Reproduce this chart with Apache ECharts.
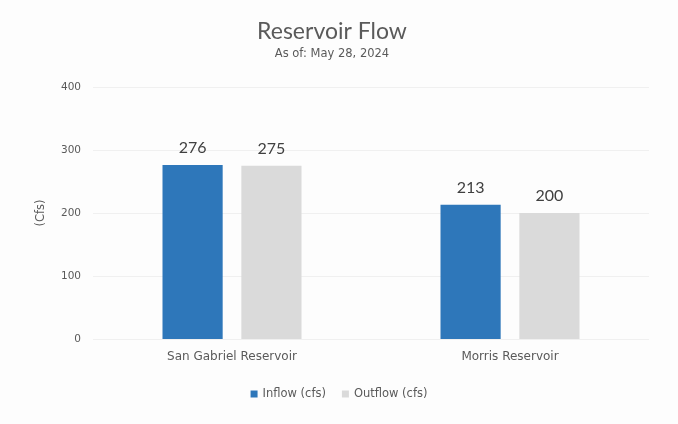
<!DOCTYPE html>
<html>
<head>
<meta charset="utf-8">
<script src="https://cdn.jsdelivr.net/npm/echarts@6/dist/echarts.min.js"></script>
<style>
  html, body { margin: 0; padding: 0; background: #ffffff; }
  #chart { width: 678px; height: 424px; }
</style>
</head>
<body>
<div id="chart"></div>
<script>
// Reservoir flow data
const categories = ['San Gabriel Reservoir', 'Morris Reservoir'];
const inflow = [276, 213];
const outflow = [275, 200];
const yTicks = [0, 100, 200, 300, 400];

const titleFont = 'Lato, "Open Sans", sans-serif';
const smallFont = '"DejaVu Sans", "Noto Sans", sans-serif';
const chart = echarts.init(document.getElementById('chart'));

chart.setOption({
  backgroundColor: '#fdfdfd',
  animation: false,
  title: {
    text: 'Reservoir Flow',
    subtext: 'As of: May 28, 2024',
    left: 327,
    textAlign: 'center',
    top: 15,
    itemGap: 5,
    textStyle: { fontFamily: titleFont, fontSize: 23, fontWeight: 'normal', color: '#5a5a5a' },
    subtextStyle: { fontFamily: smallFont, fontSize: 11.5, color: '#5a5a5a' }
  },
  legend: {
    bottom: 19,
    left: 'center',
    itemWidth: 7,
    itemHeight: 7,
    itemGap: 16,
    icon: 'rect',
    textStyle: { fontFamily: smallFont, fontSize: 11.5, color: '#5a5a5a' },
    data: ['Inflow (cfs)', 'Outflow (cfs)']
  },
  grid: { left: 93, right: 29, top: 87, bottom: 85 },
  xAxis: {
    type: 'category',
    data: categories,
    axisLine: { show: false },
    axisTick: { show: false },
    axisLabel: { fontFamily: smallFont, fontSize: 12, color: '#5a5a5a', margin: 12 }
  },
  yAxis: {
    type: 'value',
    min: yTicks[0],
    max: yTicks[yTicks.length - 1],
    interval: 100,
    name: '(Cfs)',
    nameLocation: 'middle',
    nameGap: 46,
    nameRotate: 90,
    nameTextStyle: { fontFamily: smallFont, fontSize: 11.5, color: '#5a5a5a' },
    axisLabel: { fontFamily: smallFont, fontSize: 10.5, color: '#5a5a5a', margin: 12 },
    splitLine: { lineStyle: { color: '#f0f0f0', width: 1 } }
  },
  series: [
    {
      name: 'Inflow (cfs)',
      type: 'bar',
      data: inflow,
      barGap: '31%',
      barCategoryGap: '50%',
      itemStyle: { color: '#2e77ba' },
      label: { show: true, position: 'top', distance: 9, fontFamily: titleFont, fontSize: 16, color: '#404040' }
    },
    {
      name: 'Outflow (cfs)',
      type: 'bar',
      data: outflow,
      itemStyle: { color: '#dadada' },
      label: { show: true, position: 'top', distance: 9, fontFamily: titleFont, fontSize: 16, color: '#404040' }
    }
  ]
});
</script>
</body>
</html>
